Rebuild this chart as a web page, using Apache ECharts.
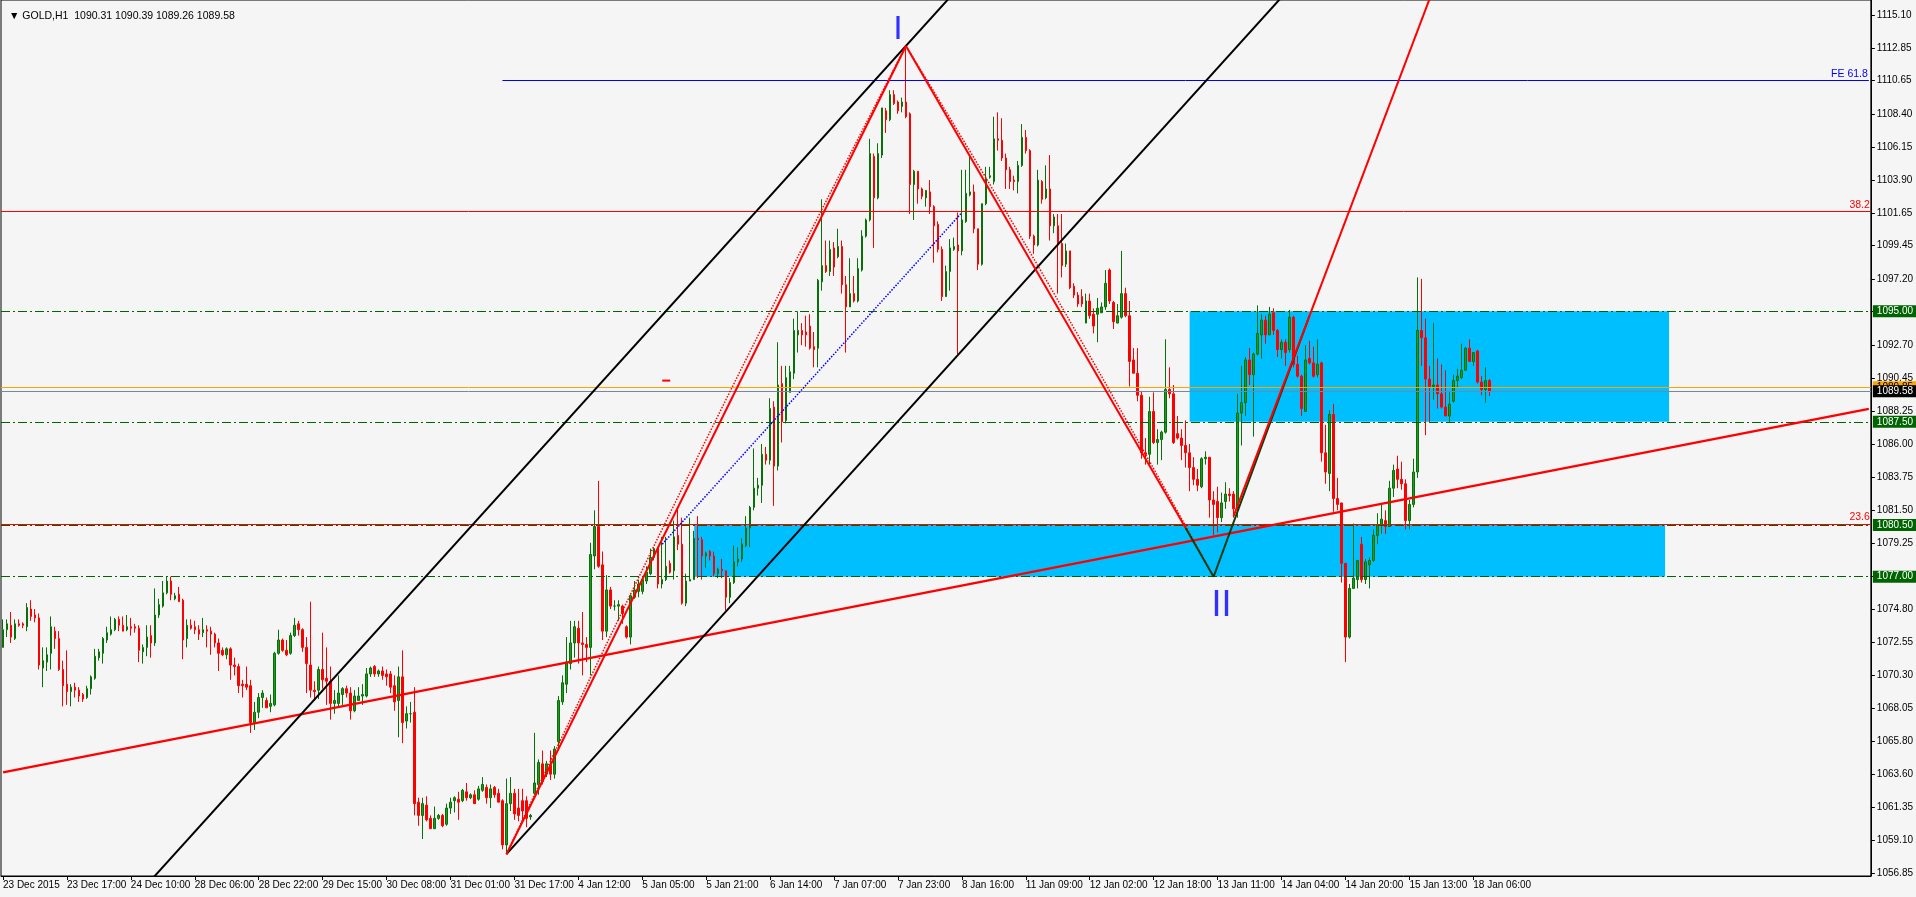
<!DOCTYPE html>
<html><head><meta charset="utf-8">
<script src="https://cdn.jsdelivr.net/npm/echarts@6/dist/echarts.min.js"></script>
<style>html,body{margin:0;padding:0;background:#f5f5f5}#c{width:1916px;height:897px}</style>
</head><body><div id="c"></div>
<script>
const symbolName = 'GOLD,H1';
// time labels every 16 H1 bars
const tickLabels = ['23 Dec 2015','23 Dec 17:00','24 Dec 10:00','28 Dec 06:00','28 Dec 22:00','29 Dec 15:00','30 Dec 08:00','31 Dec 01:00','31 Dec 17:00','4 Jan 12:00','5 Jan 05:00','5 Jan 21:00','6 Jan 14:00','7 Jan 07:00','7 Jan 23:00','8 Jan 16:00','11 Jan 09:00','12 Jan 02:00','12 Jan 18:00','13 Jan 11:00','14 Jan 04:00','14 Jan 20:00','15 Jan 13:00','18 Jan 06:00'];
const barsPerLabel = 16;
const slotCount = 468; // bars + empty future space on the chart
const priceTicks = [1115.10,1112.85,1110.65,1108.40,1106.15,1103.90,1101.65,1099.45,1097.20,1095.00,1092.70,1090.45,1088.25,1086.00,1083.75,1081.50,1079.25,1077.00,1074.80,1072.55,1070.30,1068.05,1065.80,1063.60,1061.35,1059.10,1056.85];
const priceMin = 1056.69, priceMax = 1116.12;

// [open, close, low, high]
const candles = [
[1072.2,1073.4,1072.2,1074.1],[1073.4,1073.8,1072.9,1074.1],[1073.7,1072.9,1072.5,1074.6],[1072.8,1073.8,1072.7,1074.1],[1073.8,1073.7,1073.6,1074.1],
[1073.8,1073.7,1073.5,1073.9],[1073.6,1074.9,1073.3,1075.2],[1074.8,1074.3,1074.0,1075.4],[1074.4,1074.2,1073.9,1074.8],[1074.2,1071.0,1070.7,1074.5],
[1070.8,1071.3,1069.5,1072.2],[1071.2,1071.7,1070.6,1072.2],[1071.8,1073.6,1070.7,1074.3],[1073.3,1072.8,1072.1,1073.6],[1072.8,1070.7,1070.6,1073.3],
[1070.7,1069.6,1068.2,1071.3],[1069.7,1069.2,1068.3,1072.0],[1069.2,1069.5,1068.2,1069.7],[1069.5,1069.3,1068.8,1069.8],[1069.3,1068.9,1068.5,1069.5],
[1069.0,1068.7,1068.5,1069.1],[1068.8,1069.4,1068.7,1069.6],[1069.4,1070.2,1069.0,1070.3],[1070.1,1071.6,1070.0,1072.1],[1071.5,1071.9,1071.3,1072.1],
[1071.8,1072.8,1071.1,1072.9],[1072.7,1073.2,1072.5,1073.6],[1073.1,1073.4,1073.0,1074.3],[1073.4,1074.1,1073.3,1074.2],[1074.1,1073.7,1073.3,1074.3],
[1073.7,1073.3,1073.3,1074.3],[1073.4,1073.6,1073.3,1074.4],[1073.6,1073.5,1073.0,1074.2],[1073.6,1073.5,1073.2,1073.8],[1073.5,1072.0,1071.2,1073.7],
[1071.9,1072.2,1071.1,1072.4],[1072.2,1072.9,1071.6,1073.7],[1073.0,1072.5,1071.5,1073.7],[1072.5,1074.4,1072.3,1076.2],[1074.4,1075.1,1074.2,1075.5],
[1075.0,1075.9,1074.9,1076.7],[1075.9,1076.7,1075.8,1077.0],[1076.7,1075.8,1075.4,1077.0],[1075.5,1075.7,1075.4,1075.9],[1075.8,1075.3,1075.3,1076.3],
[1075.4,1072.7,1071.4,1075.5],[1072.8,1073.7,1072.2,1074.1],[1073.7,1073.5,1073.4,1074.1],[1073.6,1073.4,1073.1,1074.0],[1073.4,1073.1,1072.7,1073.7],
[1073.2,1073.4,1072.9,1074.2],[1073.4,1073.3,1072.2,1073.7],[1073.3,1073.1,1071.7,1073.6],[1073.1,1072.5,1072.2,1073.2],[1072.5,1071.8,1070.6,1072.8],
[1072.0,1071.7,1071.6,1072.2],[1071.7,1072.1,1071.4,1072.2],[1072.1,1071.0,1070.0,1072.2],[1071.0,1070.9,1070.3,1071.5],[1070.9,1069.6,1069.1,1071.1],
[1069.7,1069.6,1068.8,1070.0],[1069.7,1069.5,1069.3,1070.9],[1069.6,1067.1,1066.4,1070.0],[1067.1,1067.8,1066.6,1068.5],[1067.8,1068.8,1067.4,1069.1],
[1068.8,1069.1,1068.1,1069.3],[1068.6,1068.1,1068.1,1068.8],[1068.2,1068.4,1067.8,1069.0],[1068.3,1071.8,1068.2,1071.9],[1071.8,1072.7,1071.7,1073.4],
[1072.7,1072.0,1071.9,1072.8],[1072.0,1071.7,1071.6,1072.7],[1071.8,1073.0,1071.7,1073.2],[1073.0,1073.7,1072.9,1074.2],[1073.8,1073.4,1073.0,1074.0],
[1073.4,1072.2,1071.9,1073.5],[1072.2,1071.1,1069.1,1072.9],[1071.0,1069.3,1068.8,1075.3],[1069.3,1069.2,1068.6,1069.9],[1069.3,1070.7,1068.7,1070.9],
[1070.7,1070.0,1069.4,1073.2],[1070.1,1069.9,1068.3,1072.2],[1069.9,1068.4,1067.3,1070.9],[1068.4,1068.6,1067.7,1069.3],[1068.4,1069.1,1068.1,1070.3],
[1069.0,1069.4,1068.3,1069.5],[1069.4,1069.1,1068.8,1069.6],[1069.1,1067.9,1067.3,1069.5],[1067.9,1068.9,1067.8,1069.3],[1068.6,1068.9,1068.6,1069.5],
[1068.9,1069.0,1068.3,1069.7],[1068.9,1070.4,1068.8,1070.8],[1070.4,1070.8,1070.2,1070.9],[1070.9,1070.4,1070.2,1071.0],[1070.4,1070.6,1070.2,1070.7],
[1070.6,1070.3,1070.0,1070.9],[1070.4,1070.2,1069.6,1070.7],[1070.4,1069.5,1069.1,1070.6],[1069.6,1068.5,1067.9,1070.3],[1068.6,1070.2,1066.1,1070.9],
[1070.2,1067.1,1065.7,1072.0],[1067.2,1067.7,1066.7,1068.2],[1067.7,1067.7,1067.1,1068.5],[1067.8,1061.6,1060.8,1069.5],[1061.7,1060.8,1060.1,1062.0],
[1060.8,1061.6,1059.2,1062.0],[1061.5,1060.5,1060.4,1062.1],[1060.6,1059.9,1059.9,1060.8],[1059.9,1060.6,1059.9,1061.4],[1060.6,1060.8,1060.5,1060.9],
[1060.8,1060.1,1060.0,1060.9],[1060.2,1061.3,1060.1,1061.6],[1061.3,1061.7,1060.9,1062.0],[1061.8,1062.0,1061.0,1062.1],[1061.9,1061.7,1060.5,1062.4],
[1061.8,1062.5,1061.7,1062.6],[1062.4,1062.0,1061.8,1063.0],[1062.0,1062.2,1061.9,1062.3],[1062.2,1061.6,1061.6,1062.5],[1061.9,1062.6,1061.8,1062.8],
[1062.5,1062.9,1062.4,1063.4],[1062.7,1062.0,1061.6,1062.9],[1062.0,1062.6,1061.3,1062.9],[1062.7,1062.2,1062.0,1062.8],[1062.3,1061.7,1061.7,1062.6],
[1061.8,1058.8,1058.5,1061.9],[1058.8,1061.6,1058.17,1063.3],[1061.6,1062.3,1061.1,1063.4],[1062.3,1060.9,1060.5,1062.6],[1061.3,1060.8,1060.4,1062.6],
[1061.8,1061.1,1060.4,1062.6],[1061.8,1060.6,1060.0,1062.1],[1060.7,1060.8,1060.5,1060.9],[1062.3,1063.0,1062.2,1066.4],[1062.9,1064.4,1062.2,1064.6],
[1064.3,1063.1,1062.9,1065.2],[1063.6,1064.3,1063.4,1064.5],[1064.2,1063.6,1063.2,1065.2],[1063.6,1065.3,1063.3,1065.5],[1065.8,1068.6,1065.2,1068.9],
[1068.5,1069.8,1068.3,1070.3],[1069.7,1071.2,1069.1,1072.9],[1071.1,1072.5,1070.7,1074.0],[1072.5,1073.6,1071.5,1074.0],[1073.5,1072.5,1071.1,1074.0],
[1072.5,1072.4,1070.3,1074.6],[1072.4,1072.2,1071.2,1072.9],[1072.2,1078.5,1070.3,1079.3],[1078.4,1080.4,1077.5,1081.5],[1080.4,1077.7,1077.6,1083.5],
[1077.8,1073.3,1072.7,1078.7],[1073.3,1076.1,1072.9,1077.1],[1076.1,1075.0,1074.8,1076.3],[1075.0,1075.0,1074.7,1075.4],[1075.0,1075.1,1074.0,1075.4],
[1075.0,1074.5,1073.8,1075.1],[1073.6,1072.9,1072.8,1073.7],[1072.9,1075.7,1072.4,1075.8],[1075.6,1076.1,1075.5,1076.7],[1076.0,1076.5,1075.6,1076.8],
[1076.0,1076.8,1075.8,1076.9],[1076.7,1077.3,1076.5,1077.7],[1077.2,1078.3,1077.1,1078.9],[1078.3,1078.9,1078.1,1079.0],[1078.9,1076.5,1076.2,1079.0],
[1076.5,1076.8,1076.2,1079.7],[1076.8,1077.7,1076.7,1079.7],[1077.9,1077.3,1077.2,1078.1],[1077.4,1079.7,1076.8,1080.8],[1079.8,1079.2,1078.8,1081.7],
[1079.2,1075.2,1075.1,1081.0],[1075.2,1076.7,1075.0,1077.2],[1076.7,1076.8,1076.7,1081.0],[1076.8,1079.6,1076.8,1080.1],[1079.6,1079.5,1076.9,1081.1],
[1079.5,1078.4,1076.8,1079.7],[1078.4,1078.6,1077.6,1078.7],[1078.7,1078.4,1078.1,1078.8],[1078.4,1077.2,1077.0,1078.7],[1077.2,1077.5,1076.9,1077.6],
[1077.5,1077.4,1076.9,1078.2],[1077.4,1075.6,1074.7,1077.4],[1075.6,1076.6,1075.2,1076.9],[1076.6,1078.0,1076.5,1079.1],[1078.0,1078.2,1077.7,1079.0],
[1078.2,1079.2,1078.0,1079.6],[1079.1,1080.3,1079.0,1081.1],[1080.3,1081.7,1079.0,1081.8],[1081.7,1083.0,1081.5,1085.7],[1083.0,1083.2,1082.5,1083.7],
[1083.2,1085.3,1082.0,1086.0],[1085.3,1084.9,1084.6,1085.8],[1084.9,1088.4,1084.6,1089.1],[1088.5,1084.5,1081.8,1088.9],[1084.5,1090.0,1084.2,1092.9],
[1090.1,1087.5,1086.1,1091.3],[1087.6,1090.5,1087.4,1091.3],[1089.5,1090.9,1089.5,1091.3],[1090.8,1093.7,1090.4,1094.5],[1093.4,1093.7,1092.2,1095.0],
[1093.7,1093.4,1092.7,1094.2],[1093.6,1093.4,1092.6,1094.7],[1094.0,1092.5,1092.4,1094.8],[1092.6,1092.4,1091.2,1093.6],[1092.5,1097.1,1091.2,1097.2],
[1097.0,1098.1,1096.4,1102.6],[1098.1,1097.7,1097.6,1099.8],[1097.7,1099.2,1097.4,1099.8],[1099.3,1098.0,1097.4,1099.7],[1098.7,1099.4,1098.6,1100.6],
[1099.4,1096.8,1096.2,1099.8],[1096.8,1095.3,1092.2,1097.4],[1095.3,1096.2,1095.3,1098.6],[1096.2,1095.7,1095.6,1097.4],[1095.7,1097.9,1095.6,1098.6],
[1097.8,1100.1,1097.7,1100.5],[1100.1,1101.2,1100.0,1101.3],[1101.2,1105.7,1101.1,1106.7],[1105.5,1102.7,1099.3,1105.7],[1102.7,1105.7,1102.6,1106.4],
[1105.6,1108.8,1105.4,1108.8],[1108.6,1108.0,1107.1,1108.8],[1108.0,1109.7,1107.9,1110.0],[1109.7,1109.1,1109.0,1110.0],[1109.2,1108.6,1108.4,1109.3],
[1108.9,1109.2,1108.5,1109.5],[1109.2,1108.2,1108.1,1113.0],[1108.4,1103.6,1101.6,1108.5],[1103.6,1104.5,1101.2,1104.6],[1104.5,1103.3,1102.3,1104.5],
[1103.3,1102.8,1102.6,1103.4],[1102.7,1103.2,1102.1,1103.2],[1103.1,1102.1,1101.6,1103.9],[1102.1,1100.8,1098.3,1102.2],[1100.9,1099.2,1099.0,1101.1],
[1099.2,1096.0,1095.7,1099.4],[1096.0,1097.7,1096.0,1098.1],[1097.7,1099.3,1096.4,1099.9],[1099.2,1099.4,1099.1,1100.0],[1099.5,1099.1,1092.1,1101.7],
[1099.1,1101.2,1098.8,1104.6],[1101.1,1103.0,1101.0,1104.6],[1102.9,1103.1,1102.8,1105.5],[1103.1,1100.6,1100.3,1103.6],[1100.6,1098.2,1097.8,1100.6],
[1098.2,1102.3,1098.1,1102.3],[1102.3,1104.0,1102.2,1104.8],[1104.1,1104.2,1104.0,1104.8],[1103.8,1106.7,1103.6,1108.2],[1106.7,1106.6,1105.9,1108.5],
[1106.6,1105.4,1105.2,1108.1],[1105.4,1104.6,1103.3,1105.7],[1104.6,1103.8,1103.3,1104.8],[1103.9,1103.8,1103.2,1104.2],[1103.8,1104.9,1103.0,1105.2],
[1104.9,1106.8,1104.8,1107.7],[1106.8,1105.9,1105.7,1107.3],[1105.9,1100.1,1099.9,1106.0],[1100.1,1099.5,1098.9,1100.2],[1099.5,1103.9,1099.4,1104.6],
[1103.8,1102.6,1102.3,1103.9],[1102.7,1103.3,1102.6,1104.9],[1103.3,1100.8,1099.8,1105.6],[1100.8,1101.4,1100.3,1101.6],[1100.8,1099.6,1096.2,1101.6],
[1099.6,1098.1,1097.3,1101.6],[1098.2,1099.1,1098.0,1099.6],[1099.1,1096.6,1096.5,1099.1],[1096.7,1096.1,1095.9,1096.9],[1096.1,1095.5,1095.3,1096.3],
[1096.0,1095.5,1095.3,1096.5],[1094.2,1095.7,1094.2,1096.2],[1095.7,1094.7,1094.5,1096.2],[1094.8,1094.0,1093.5,1095.2],[1094.8,1095.2,1092.9,1095.9],
[1094.9,1095.3,1094.9,1095.6],[1095.3,1096.9,1095.1,1097.8],[1097.8,1095.7,1095.5,1097.9],[1095.6,1094.3,1093.8,1095.7],[1094.2,1094.7,1094.2,1095.5],
[1094.6,1096.2,1094.5,1099.1],[1096.2,1094.7,1094.6,1096.6],[1094.7,1091.6,1089.9,1095.7],[1091.7,1090.8,1090.8,1092.5],[1090.8,1089.3,1088.9,1092.5],
[1089.3,1085.4,1085.0,1089.6],[1085.4,1085.3,1084.6,1086.4],[1085.3,1088.2,1084.6,1089.2],[1088.2,1086.1,1086.0,1089.5],[1086.1,1086.3,1084.6,1087.0],
[1086.3,1086.8,1084.9,1086.9],[1086.8,1089.7,1086.7,1093.1],[1089.7,1089.4,1089.1,1091.2],[1089.4,1086.1,1086.0,1090.0],[1086.7,1086.4,1086.3,1087.9],
[1086.4,1085.9,1084.9,1087.0],[1085.9,1085.4,1084.4,1087.6],[1085.4,1084.4,1082.8,1086.0],[1084.4,1083.6,1083.2,1085.1],[1083.6,1083.2,1082.8,1084.3],
[1083.1,1085.0,1083.0,1085.1],[1085.0,1085.1,1084.6,1085.5],[1085.1,1082.2,1081.0,1085.1],[1082.2,1081.9,1079.8,1082.8],[1082.1,1081.0,1080.0,1083.1],
[1081.0,1082.0,1080.7,1082.7],[1082.1,1082.6,1081.6,1083.4],[1082.6,1082.5,1082.1,1083.0],[1082.6,1081.6,1081.0,1082.8],[1081.6,1088.1,1081.0,1089.4],
[1088.1,1088.8,1085.9,1091.3],[1088.8,1091.7,1087.9,1091.9],[1091.7,1090.7,1090.0,1092.5],[1090.7,1092.1,1086.5,1092.2],[1092.1,1093.5,1092.0,1095.4],
[1093.4,1094.4,1091.8,1094.8],[1094.4,1093.4,1092.8,1094.7],[1093.4,1094.8,1093.4,1095.3],[1094.9,1093.7,1093.4,1095.2],[1093.7,1092.4,1091.9,1093.8],
[1092.4,1092.9,1091.8,1093.1],[1092.9,1092.2,1091.3,1093.1],[1092.4,1094.6,1092.2,1095.1],[1094.6,1091.4,1091.2,1094.7],[1091.4,1090.6,1090.5,1092.0],
[1090.6,1088.4,1087.9,1090.7],[1088.2,1091.7,1088.2,1092.7],[1091.8,1091.5,1091.4,1093.0],[1091.5,1090.6,1090.5,1092.6],[1090.7,1091.4,1090.5,1093.1],
[1091.5,1085.4,1084.8,1091.6],[1085.4,1084.1,1083.3,1087.3],[1084.0,1088.0,1082.8,1088.3],[1088.0,1082.3,1081.4,1088.7],[1082.3,1081.9,1081.5,1083.7],
[1082.0,1077.9,1076.6,1082.0],[1077.9,1072.9,1071.2,1077.9],[1072.9,1076.2,1072.8,1076.5],[1076.2,1076.9,1076.2,1080.6],[1076.8,1078.1,1076.2,1078.1],
[1079.2,1076.8,1076.6,1079.7],[1076.8,1078.0,1076.5,1078.2],[1077.8,1078.1,1076.2,1078.3],[1078.1,1079.8,1078.0,1080.2],[1079.8,1080.5,1079.2,1081.3],
[1080.5,1080.9,1079.9,1082.0],[1080.8,1080.4,1079.9,1081.5],[1080.4,1083.0,1080.4,1083.5],[1083.0,1084.2,1082.4,1084.6],[1084.3,1083.6,1083.0,1085.2],
[1083.6,1083.3,1082.9,1084.8],[1083.3,1080.8,1080.2,1083.6],[1080.8,1081.9,1080.2,1082.2],[1081.9,1084.1,1081.7,1085.0],[1084.1,1093.7,1083.7,1097.3],
[1093.7,1093.2,1091.3,1097.2],[1093.2,1090.4,1086.6,1094.5],[1090.4,1089.9,1087.5,1091.3],[1089.9,1090.0,1089.0,1094.2],[1090.0,1089.4,1088.4,1091.8],
[1089.4,1088.5,1088.4,1091.4],[1088.5,1087.9,1087.9,1091.0],[1087.9,1088.7,1087.5,1089.5],[1088.9,1090.3,1088.8,1090.7],[1090.3,1090.6,1089.8,1091.1],
[1090.5,1091.0,1090.4,1092.8],[1091.0,1092.5,1091.0,1092.6],[1092.5,1091.6,1091.6,1093.1],[1091.6,1092.2,1091.3,1092.2],[1092.3,1090.2,1090.1,1092.4],
[1090.2,1089.7,1089.3,1090.6],[1089.7,1090.3,1088.8,1091.2],[1090.31,1089.58,1089.26,1090.39]
];

// drawn objects: [bar index, price]
const channelUpper = [[30,1054.3],[245,1118.7]];
const channelLower = [[126,1058.17],[330,1119.3]];
const baseTrend = [[0,1063.72],[467,1088.38]];
const legUp = [[126,1058.17],[226,1113.0]];
const legDown = [[226,1113.0],[296,1080.3]];
const vShape = [[296,1080.3],[303,1077.0],[327,1094.7]];
const riseLine = [[308,1081.1],[360,1118.3]];
const legUpDotted = [[126,1058.17],[176,1086.3],[226,1113.0]];
const legDownDotted = [[226,1113.0],[262,1096.7],[303,1077.0]];
const blueDotted = [[165,1079.2],[240,1101.7]];
const shortMark = [[165,1090.3],[167,1090.3]];
const fe618 = {name:'FE 61.8', price:1110.65, fromBar:125};
const fibLevels = [{name:'38.2', price:1101.78},{name:'23.6', price:1080.57}];
const greenLevels = [1095.00, 1087.50, 1080.50, 1077.00];
const askPrice = 1089.85;
const boxes = [[297,1095.00,417,1087.50],[173,1080.50,416,1077.00]];
const waveLabels = [{text:'I', bar:224, price:1114.1, size:34},{text:'II', bar:305, price:1075.0, size:36}];

const FONT = "'Liberation Sans',Arial,sans-serif";
const slots = Array.from({length: slotCount}, (_, i) => String(i));
const last = candles[candles.length - 1];
const bidPrice = last[1];

function lineSeries(data, color, width, type, smooth, z) {
  return {type:'line', data, symbol:'none', showSymbol:false, silent:true, clip:true, smooth: !!smooth,
    z: z || 5, lineStyle:{color, width, type: type || 'solid'}, animation:false};
}

const markLines = [];
markLines.push([
  {coord:[fe618.fromBar, fe618.price], lineStyle:{color:'#0000ff', width:1, type:'solid'},
   label:{show:true, position:'insideEndTop', formatter: fe618.name, color:'#0000ff', fontSize:10.5, fontFamily:FONT, distance:1}},
  {coord:[slotCount-1, fe618.price]}
]);
fibLevels.forEach(f => markLines.push({yAxis:f.price, lineStyle:{color:'#ff0000', width:1, type:'solid'},
  label:{show:true, position:'insideEndTop', formatter:f.name, color:'#ff0000', fontSize:10.5, fontFamily:FONT, distance:1}}));
greenLevels.forEach(v => markLines.push({yAxis:v, lineStyle:{color:'#006400', width:1, type:[9,3,2,3]},
  label:{show:true, position:'end', formatter:v.toFixed(2), color:'#ffffff', backgroundColor:'#006400', fontSize:10, fontFamily:FONT, padding:[1,6,1,4], distance:2, lineHeight:10}}));
markLines.push({yAxis:askPrice, lineStyle:{color:'#ffa500', width:1, type:'solid'},
  label:{show:true, position:'end', formatter:askPrice.toFixed(2), color:'#000', backgroundColor:'#ffa500', fontSize:10, fontFamily:FONT, padding:[1,6,1,4], distance:2, lineHeight:10}});
markLines.push({yAxis:bidPrice, lineStyle:{color:'#778899', width:1, type:'solid'},
  label:{show:true, position:'end', formatter:bidPrice.toFixed(2), color:'#ffffff', backgroundColor:'#000000', fontSize:10, fontFamily:FONT, padding:[1,6,1,4], distance:2, lineHeight:10}});

const option = {
  animation:false,
  backgroundColor:'#f5f5f5',
  title:{text:'\u25BC ' + symbolName + '  ' + [last[0], last[3], last[2], last[1]].map(v => v.toFixed(2)).join(' '),
    left:4, top:6, textStyle:{fontSize:10.5, fontWeight:'normal', color:'#000', fontFamily:FONT}},
  grid:{left:1, right:43, top:0, bottom:21, show:true, borderColor:'#000', borderWidth:1, backgroundColor:'transparent'},
  xAxis:{type:'category', data:slots, boundaryGap:true,
    axisLine:{show:true, lineStyle:{color:'#000', width:1}},
    axisTick:{show:true, alignWithLabel:true, length:4, lineStyle:{color:'#000'},
      interval:(i) => i % barsPerLabel === 0 && i / barsPerLabel < tickLabels.length},
    axisLabel:{show:true, align:'left', color:'#000', fontSize:10, fontFamily:FONT, margin:4,
      interval:(i) => i % barsPerLabel === 0 && i / barsPerLabel < tickLabels.length,
      formatter:(v) => tickLabels[Number(v) / barsPerLabel] || ''},
    splitLine:{show:false}},
  yAxis:{type:'value', position:'right', min:priceMin, max:priceMax,
    axisLine:{show:true, lineStyle:{color:'#000', width:1}},
    axisTick:{show:true, length:4, lineStyle:{color:'#000'}, customValues:priceTicks},
    axisLabel:{show:true, color:'#000', fontSize:10, fontFamily:FONT, margin:6, customValues:priceTicks, formatter:(v) => v.toFixed(2)},
    splitLine:{show:false}},
  series:[
    {type:'line', data:[], z:1, silent:true, markArea:{silent:true, itemStyle:{color:'#00bfff', opacity:1},
      data: boxes.map(b => [{coord:[b[0], b[1]]}, {coord:[b[2], b[3]]}])}},
    {type:'candlestick', name:'GOLD', data:candles, barWidth:2, z:3, silent:true,
      itemStyle:{color:'#1e9a1e', color0:'#ff0000', borderColor:'#087008', borderColor0:'#ff0000', borderWidth:1}},
    {type:'line', data:[], z:4, silent:true, markLine:{silent:true, symbol:['none','none'], animation:false, data:markLines}},
    lineSeries(baseTrend, '#ff0000', 2.5),
    lineSeries(channelUpper, '#000000', 2),
    lineSeries(channelLower, '#000000', 2),
    lineSeries(legUpDotted, '#ff0000', 1.5, 'dotted', 0.4),
    lineSeries(legDownDotted, '#ff0000', 1.5, 'dotted', 0.4),
    lineSeries(vShape, '#103c10', 2),
    lineSeries(legUp, '#ff0000', 2),
    lineSeries(legDown, '#ff0000', 2),
    lineSeries(riseLine, '#ff0000', 2),
    lineSeries(blueDotted, '#0000ff', 1.5, 'dotted'),
    lineSeries(shortMark, '#ff0000', 2),
    {type:'scatter', z:6, silent:true, symbolSize:0,
      data: waveLabels.map(w => ({value:[w.bar, w.price], label:{show:true, position:'inside', formatter:w.text, color:'#0000ff', fontSize:w.size, fontFamily:'Liberation Sans, Arial, sans-serif'}}))}
  ]
};
const chart = echarts.init(document.getElementById('c'), null, {renderer:'canvas'});
chart.setOption(option);
</script>
</body></html>
